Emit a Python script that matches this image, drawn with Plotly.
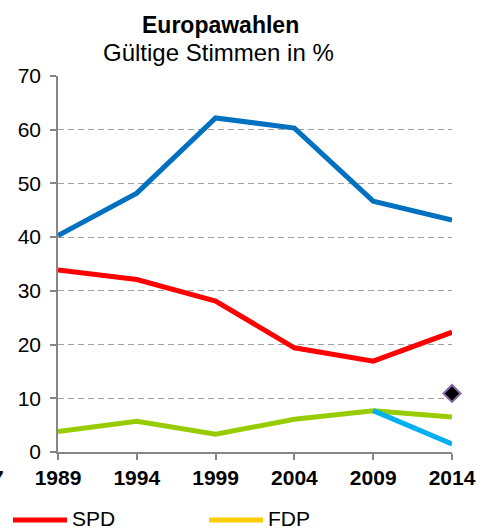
import plotly.graph_objects as go

years = [1989, 1994, 1999, 2004, 2009, 2014]
year_labels = ["1989", "1994", "1999", "2004", "2009", "2014"]
blue_vals = [40.3, 48.2, 62.2, 60.3, 46.7, 43.2]
spd_vals = [33.9, 32.1, 28.1, 19.4, 16.9, 22.3]
green_vals = [3.8, 5.7, 3.3, 6.1, 7.7, 6.5]
lightblue_years = [2009, 2014]
lightblue_vals = [7.7, 1.5]
diamond_years = [2014]
diamond_vals = [10.9]
y_ticks = [0, 10, 20, 30, 40, 50, 60, 70]

FONT = "Liberation Sans, Arial, sans-serif"

fig = go.Figure()
fig.add_trace(go.Scatter(x=years, y=blue_vals, mode="lines", line=dict(color="#0070C0", width=5), showlegend=False))
fig.add_trace(go.Scatter(x=years, y=spd_vals, mode="lines", line=dict(color="#FF0000", width=5), name="SPD", showlegend=False))
fig.add_trace(go.Scatter(x=years, y=green_vals, mode="lines", line=dict(color="#99CC00", width=5), showlegend=False))
fig.add_trace(go.Scatter(x=lightblue_years, y=lightblue_vals, mode="lines", line=dict(color="#00B0F0", width=5), showlegend=False))
fig.add_trace(go.Scatter(x=diamond_years, y=diamond_vals, mode="markers",
                         marker=dict(symbol="diamond", size=13, color="#000000", line=dict(color="#8064A2", width=2)),
                         cliponaxis=False, showlegend=False))

plot_h = 452 - 76
plot_w = 452 - 58

def py(px):
    return 1 + (76 - px) / plot_h

def pxx(px):
    return (px - 58) / plot_w

annotations = [
    dict(text="<b>Europawahlen</b>", x=pxx(220), y=py(25), xref="paper", yref="paper",
         xanchor="center", yanchor="middle", showarrow=False, font=dict(size=23, color="#000", family=FONT)),
    dict(text="Gültige Stimmen in %", x=pxx(218), y=py(53), xref="paper", yref="paper",
         xanchor="center", yanchor="middle", showarrow=False, font=dict(size=24, color="#000", family=FONT)),
    dict(text="<b>1987</b>", x=pxx(6), y=py(478), xref="paper", yref="paper",
         xanchor="right", yanchor="middle", showarrow=False, font=dict(size=21, color="#000", family=FONT)),
]

# manual legend
legend_items = [("SPD", "#FF0000", 13, 67), ("FDP", "#FFCC00", 209, 263)]
shapes = []
for name, col, x0, x1 in legend_items:
    shapes.append(dict(type="line", xref="paper", yref="paper", x0=pxx(x0), x1=pxx(x1), y0=py(520), y1=py(520),
                       line=dict(color=col, width=5)))
    annotations.append(dict(text=name, x=pxx(x1 + 3), y=py(518), xref="paper", yref="paper",
                            xanchor="left", yanchor="middle", showarrow=False,
                            font=dict(size=21, color="#000", family=FONT)))

fig.update_layout(
    width=492, height=529,
    margin=dict(l=58, r=40, t=76, b=77),
    plot_bgcolor="white", paper_bgcolor="white",
    font=dict(family=FONT, color="#000"),
    annotations=annotations, shapes=shapes,
    showlegend=False,
)
fig.update_xaxes(range=[1989, 2014], tickvals=years, ticktext=["<b>%s</b>" % t for t in year_labels],
                 tickfont=dict(size=21, family=FONT, color="#000"),
                 showgrid=False, zeroline=False, showline=True, linecolor="#868686", linewidth=1.5,
                 ticks="outside", ticklen=6, tickcolor="#868686", tickwidth=1.5)
fig.update_yaxes(range=[0, 70], tickvals=y_ticks, tickfont=dict(size=21, family=FONT, color="#000"),
                 showgrid=True, gridcolor="#A0A0A0", griddash="6px,4px", gridwidth=1.2,
                 zeroline=False, showline=True, linecolor="#868686", linewidth=1.5,
                 ticks="outside", ticklen=6, tickcolor="#868686", tickwidth=1.5,
                 ticklabelstandoff=5)

fig.write_html("out.html", config={"displayModeBar": False},
               post_script="document.body.style.margin='0';document.body.style.overflow='hidden';")
